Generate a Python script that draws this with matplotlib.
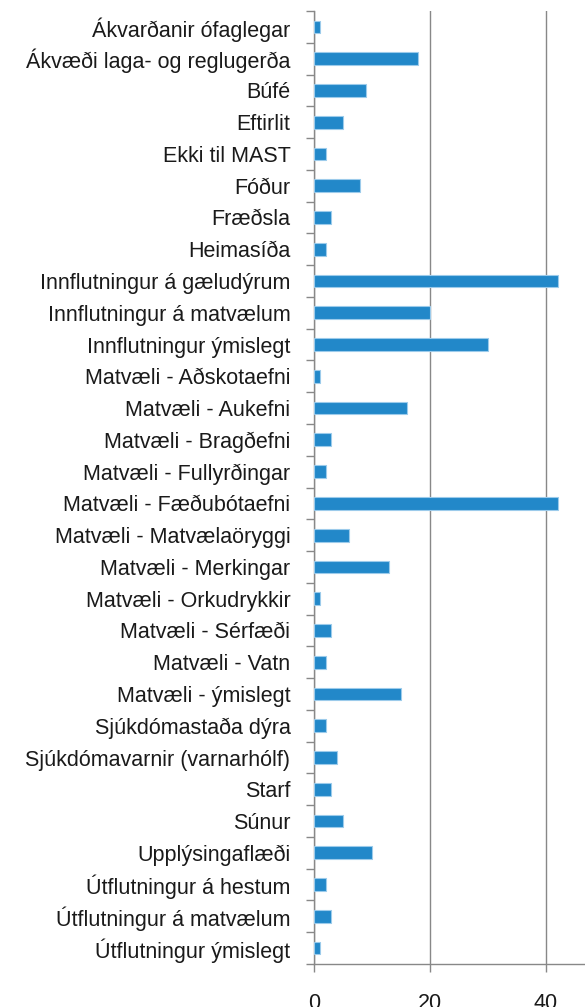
import matplotlib
matplotlib.use("Agg")
import matplotlib.pyplot as plt
import numpy as np

categories = [
    "Ákvarðanir ófaglegar",
    "Ákvæði laga- og reglugerða",
    "Búfé",
    "Eftirlit",
    "Ekki til MAST",
    "Fóður",
    "Fræðsla",
    "Heimasíða",
    "Innflutningur á gæludýrum",
    "Innflutningur á matvælum",
    "Innflutningur ýmislegt",
    "Matvæli - Aðskotaefni",
    "Matvæli - Aukefni",
    "Matvæli - Bragðefni",
    "Matvæli - Fullyrðingar",
    "Matvæli - Fæðubótaefni",
    "Matvæli - Matvælaöryggi",
    "Matvæli - Merkingar",
    "Matvæli - Orkudrykkir",
    "Matvæli - Sérfæði",
    "Matvæli - Vatn",
    "Matvæli - ýmislegt",
    "Sjúkdómastaða dýra",
    "Sjúkdómavarnir (varnarhólf)",
    "Starf",
    "Súnur",
    "Upplýsingaflæði",
    "Útflutningur á hestum",
    "Útflutningur á matvælum",
    "Útflutningur ýmislegt",
]
values = [1, 18, 9, 5, 2, 8, 3, 2, 42, 20, 30, 1, 16, 3, 2, 42, 6, 13, 1, 3, 2, 15, 2, 4, 3, 5, 10, 2, 3, 1]
xticks = [0, 20, 40]

W, H = 585, 1007
fig = plt.figure(figsize=(W / 100, H / 100), dpi=100)
left = 314 / W
right = 604 / W
top = 1 - 11 / H
bottom = 1 - 964 / H
ax = fig.add_axes([left, bottom, right - left, top - bottom])

n = len(categories)
y = np.arange(n)
ax.barh(y, values, height=0.4, color="#2288C9", edgecolor="#9CCBEB", linewidth=0.8, zorder=3)
ax.set_ylim(n - 0.5, -0.5)
ax.set_xlim(0, 50)

fam = ["Liberation Sans", "DejaVu Sans"]
ax.set_yticks(y)
ax.set_yticklabels(categories, fontsize=15.5, color="#1a1a1a", family=fam)
ax.tick_params(axis="y", which="major", length=0, pad=17)
ax.set_yticks(np.arange(n + 1) - 0.5, minor=True)
ax.tick_params(axis="y", which="minor", length=6, width=1, color="#888888", direction="out")

ax.set_xticks(xticks)
ax.set_xticklabels([str(t) for t in xticks], fontsize=15.5, color="#1a1a1a", family=fam)
ax.tick_params(axis="x", which="major", length=6, width=1, color="#888888", direction="out", pad=15)
ax.grid(axis="x", color="#888888", linewidth=1, zorder=0)

for s in ["top", "right"]:
    ax.spines[s].set_visible(False)
for s in ["left", "bottom"]:
    ax.spines[s].set_color("#888888")
    ax.spines[s].set_linewidth(1)

fig.savefig("out.png", dpi=100)
